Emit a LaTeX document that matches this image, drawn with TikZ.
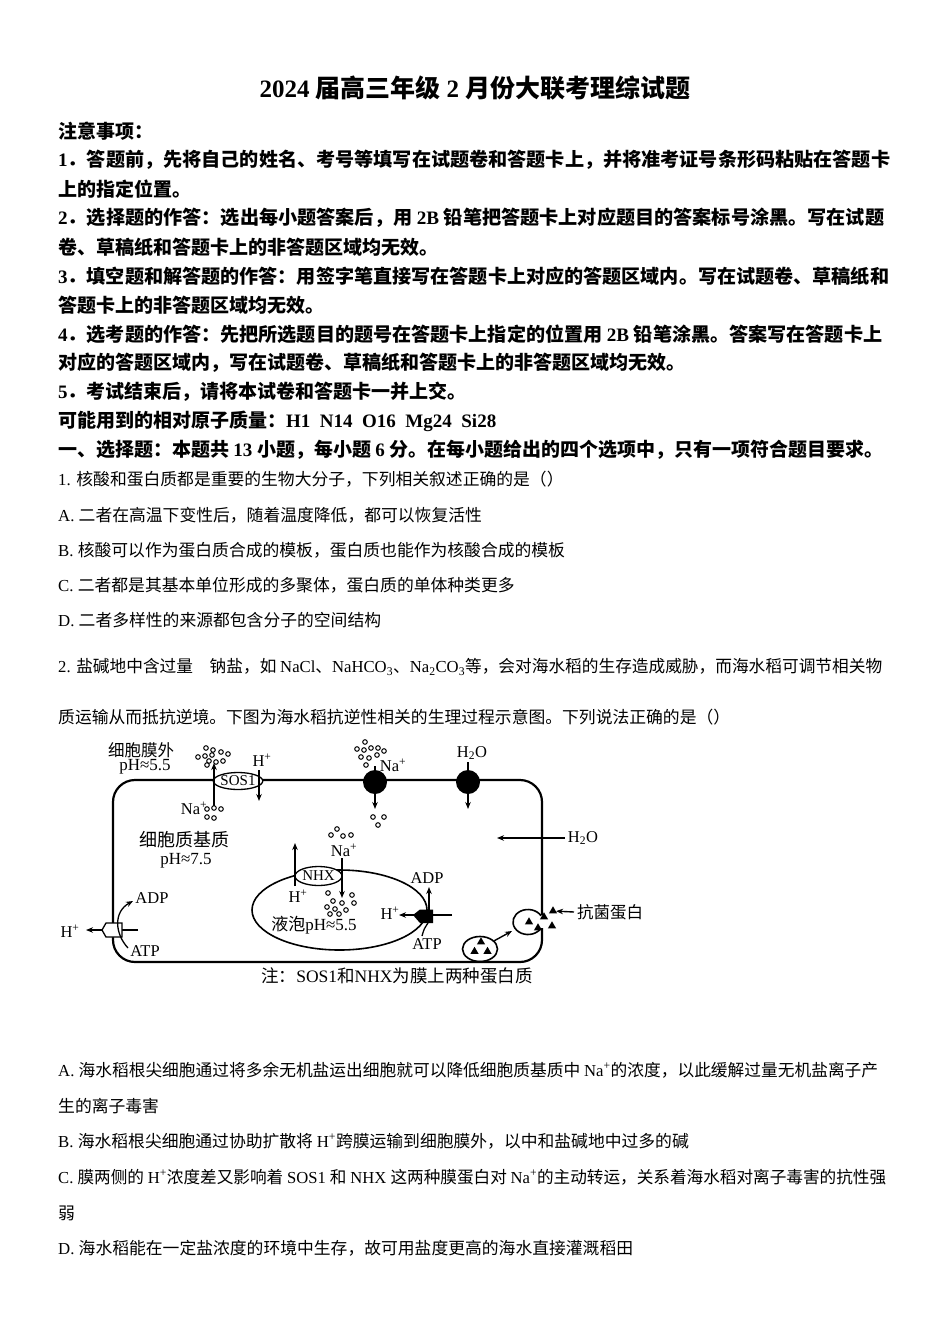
\documentclass[tikz,border=0pt]{standalone}
\usepackage{fontspec}
\usepackage{graphicx}
\setmainfont{Liberation Serif}
\newfontfamily\lat{Liberation Serif}
\newfontfamily\cjk{Noto Sans CJK SC}
\usetikzlibrary{arrows.meta,shapes.geometric}
% automatic font switching between Latin and CJK
\chardef\mycjkclass=7
\newcount\mycjkc
\mycjkc="4E00
\loop
  \XeTeXcharclass\mycjkc=\mycjkclass
  \advance\mycjkc by 1
\ifnum\mycjkc<"A000 \repeat
\mycjkc="3000
\loop
  \XeTeXcharclass\mycjkc=\mycjkclass
  \advance\mycjkc by 1
\ifnum\mycjkc<"3040 \repeat
\mycjkc="FF00
\loop
  \XeTeXcharclass\mycjkc=\mycjkclass
  \advance\mycjkc by 1
\ifnum\mycjkc<"FFF0 \repeat
\XeTeXinterchartoks 0 \mycjkclass={\cjk}
\XeTeXinterchartoks 4095 \mycjkclass={\cjk}
\XeTeXinterchartoks \mycjkclass 0 ={\lat}
\XeTeXinterchartoks 4095 0 ={\lat}
\XeTeXinterchartokenstate=1
\newcommand\bodyB{\fontsize{19}{19}\selectfont\bfseries}
\newcommand\bodyR{\fontsize{16.8}{17}\selectfont}
\newcommand\tl[4]{\node[txt,font=#3] (#1) at (58,#2) {#4};}
\newcommand\tf[5]{\node[txt,font=#3] (#1) at (58,#2) {\resizebox{#4pt}{\height}{#5}};}
\begin{document}
\begin{tikzpicture}[x=1pt,y=-1pt,
  mem/.style={line width=2.2pt},
  ves/.style={line width=1.6pt},
  arr/.style={-{Stealth[length=7pt,width=5.5pt]},line width=1.4pt},
  dotst/.style={line width=1pt},
  lbl/.style={inner sep=0pt,font=\fontsize{16.5}{16}\selectfont},
  phl/.style={inner sep=0pt,font=\fontsize{17}{17}\selectfont},
  prot/.style={circle,fill=black,minimum size=24pt,inner sep=0pt},
  tri/.style={regular polygon,regular polygon sides=3,fill=black,minimum size=9.5pt,inner sep=0pt},
  memprot/.style={draw,fill=white,ellipse,inner sep=0pt,line width=1.3pt,font=\fontsize{15}{15}\selectfont},
  txt/.style={anchor=west,inner sep=0pt}]
\fill[white] (0,0) rectangle (950,1344);
\useasboundingbox (0,0) rectangle (950,1344);

% ---------- header text ----------
\node[inner sep=0pt,font=\fontsize{25}{25}\selectfont\bfseries] (title) at (475,88) {2024 届高三年级 2 月份大联考理综试题};
\tl{n0}{131}{\bodyB}{注意事项：}
\tf{n1}{160}{\bodyB}{832}{1．答题前，先将自己的姓名、考号等填写在试题卷和答题卡上，并将准考证号条形码粘贴在答题卡}
\tl{n2}{189}{\bodyB}{上的指定位置。}
\tf{n3}{218}{\bodyB}{826}{2．选择题的作答：选出每小题答案后，用 2B 铅笔把答题卡上对应题目的答案标号涂黑。写在试题}
\tl{n4}{247}{\bodyB}{卷、草稿纸和答题卡上的非答题区域均无效。}
\tf{n5}{276}{\bodyB}{831}{3．填空题和解答题的作答：用签字笔直接写在答题卡上对应的答题区域内。写在试题卷、草稿纸和}
\tl{n6}{305}{\bodyB}{答题卡上的非答题区域均无效。}
\tf{n7}{334}{\bodyB}{824}{4．选考题的作答：先把所选题目的题号在答题卡上指定的位置用 2B 铅笔涂黑。答案写在答题卡上}
\tl{n8}{363}{\bodyB}{对应的答题区域内，写在试题卷、草稿纸和答题卡上的非答题区域均无效。}
\tl{n9}{392}{\bodyB}{5．考试结束后，请将本试卷和答题卡一并上交。}
\tl{n10}{421}{\bodyB}{可能用到的相对原子质量：H1\ \ N14\ \ O16\ \ Mg24\ \ Si28}
\tf{n11}{450}{\bodyB}{825}{一、选择题：本题共 13 小题，每小题 6 分。在每小题给出的四个选项中，只有一项符合题目要求。}

\tl{q1}{479}{\bodyR}{1. 核酸和蛋白质都是重要的生物大分子，下列相关叙述正确的是（）}
\tl{q1a}{515}{\bodyR}{A. 二者在高温下变性后，随着温度降低，都可以恢复活性}
\tl{q1b}{550}{\bodyR}{B. 核酸可以作为蛋白质合成的模板，蛋白质也能作为核酸合成的模板}
\tl{q1c}{585}{\bodyR}{C. 二者都是其基本单位形成的多聚体，蛋白质的单体种类更多}
\tl{q1d}{620}{\bodyR}{D. 二者多样性的来源都包含分子的空间结构}
\tf{q2}{667}{\bodyR}{824}{2. 盐碱地中含过量\hspace{1em}钠盐，如 NaCl、NaHCO\textsubscript{3}、Na\textsubscript{2}CO\textsubscript{3}等，会对海水稻的生存造成威胁，而海水稻可调节相关物}
\tl{q2b}{717}{\bodyR}{质运输从而抵抗逆境。下图为海水稻抗逆性相关的生理过程示意图。下列说法正确的是（）}

% ---------- diagram ----------
% cell membrane
\draw[mem,rounded corners=22pt] (542,915) -- (542,780) -- (113,780) -- (113,962) -- (542,962) -- (542,928);
% fusing vesicle
\draw[ves] (541,915.75) arc[start angle=-30,end angle=-330,x radius=15,y radius=12.5];
\node[tri] (t1) at (529,922) {};
\node[tri] (t2) at (544,917) {};
\node[tri] (t3) at (553,911) {};
\node[tri] (t4) at (538,928) {};
\node[tri] (t5) at (552,926) {};
% small vesicle
\node[draw,ellipse,minimum width=35pt,minimum height=25pt,inner sep=0pt,line width=1.6pt] (sv) at (480,949) {};
\node[tri] (s1) at (481,942) {};
\node[tri] (s2) at (474.5,951.5) {};
\node[tri] (s3) at (487.5,951.5) {};
\coordinate (fvin) at (512,931);
\draw[arr] (sv.30) -- (fvin);
\node[lbl,anchor=west,font=\fontsize{16.5}{16}\selectfont] (kj) at (577,912) {抗菌蛋白};
\draw[arr] ([xshift=-3pt]kj.west) -- (t3);

% labels in the cell
\node[lbl] (out1) at (141,750) {细胞膜外};
\node[phl] (out2) at (145,767) {pH≈5.5};
\node[lbl,font=\fontsize{18}{18}\selectfont] (cy1) at (184,840) {细胞质基质};
\node[phl] (cy2) at (186,861) {pH≈7.5};

% SOS1
\coordinate (sosA) at (214,806);
\coordinate (sosB) at (214,763);
\coordinate (sosC) at (259,770);
\coordinate (sosD) at (259,801);
\node[memprot,minimum width=45pt,minimum height=17pt] (sos) at (238,781) {SOS1};
\draw[arr] (sosA) -- (sosB);
\draw[arr] (sosC) -- (sosD);
\node[lbl] (hS) at (262,760) {H\textsuperscript{+}};
\node[lbl] (naS) at (194,808) {Na\textsuperscript{+}};
\foreach \p in {(206,748),(213,750),(221,752),(228,754),(198,757),(205,756),(212,755),(209,761),(216,762),(223,761),(207,765)}
  \draw[dotst] \p circle[radius=2.3];
\foreach \p in {(207,809),(214,808),(221,809),(207,817),(214,818)}
  \draw[dotst] \p circle[radius=2.3];

% Na+ channel
\node[prot] (p1) at (375,782) {};
\coordinate (p1a) at (375,766);
\coordinate (p1b) at (375,809);
\draw[arr] (p1a) -- (p1b);
\node[lbl] (naP) at (393,765) {Na\textsuperscript{+}};
\foreach \p in {(365,742),(357,749),(364,750),(371,748),(378,748),(384,751),(361,757),(369,758),(377,755),(366,765)}
  \draw[dotst] \p circle[radius=2.3];
\foreach \p in {(373,817),(384,817),(378,825)}
  \draw[dotst] \p circle[radius=2.3];

% water channel
\node[prot] (p2) at (468,782) {};
\coordinate (p2a) at (468,762);
\coordinate (p2b) at (468,809);
\draw[arr] (p2a) -- (p2b);
\node[lbl] (h2oP) at (472,753) {H\textsubscript{2}O};
\node[lbl] (h2oR) at (583,838) {H\textsubscript{2}O};
\coordinate (wend) at (497,838);
\draw[arr] ([xshift=-3pt]h2oR.west) -- (wend);

% left H+ pump
\coordinate (hpa) at (138,930);
\coordinate (hpb) at (86,930);
\draw[arr] (hpa) -- (hpb);
\filldraw[fill=white,line width=1.3pt] (106,923) -- (102,930) -- (106,937) -- (122,937) -- (122,923) -- cycle;
\coordinate (atp1) at (128,948);
\coordinate (adp1) at (133,901);
\draw[arr,line width=1.3pt] (atp1) .. controls (115,934) and (113,912) .. (adp1);
\node[lbl] (hL) at (70,931) {H\textsuperscript{+}};
\node[lbl] (adpL) at (152,898) {ADP};
\node[lbl] (atpL) at (145,951) {ATP};

% vacuole
\draw[ves] (339.5,910) ellipse[x radius=87.5,y radius=40];
\node[memprot,minimum width=47pt,minimum height=19pt] (nhx) at (318.5,876) {NHX};
\coordinate (nA) at (295,886);
\coordinate (nB) at (295,843);
\coordinate (nC) at (342,858);
\coordinate (nD) at (342,898);
\draw[arr] (nA) -- (nB);
\draw[arr] (nC) -- (nD);
\node[lbl] (hN) at (298,896) {H\textsuperscript{+}};
\node[lbl] (naN) at (344,850) {Na\textsuperscript{+}};
\foreach \p in {(331,835),(337,829),(343,836),(351,835)}
  \draw[dotst] \p circle[radius=2.3];
\foreach \p in {(328,893),(352,895),(333,901),(342,903),(354,903),(327,907),(335,909),(346,910),(330,914),(339,914)}
  \draw[dotst] \p circle[radius=2.3];
\node[phl] (vac) at (314,925) {液泡pH≈5.5};

% vacuolar H+ pump
\coordinate (vpa) at (452,915);
\coordinate (vpb) at (399,915);
\draw[arr] (vpa) -- (vpb);
\fill (420,909.5) -- (433,909.5) -- (433,923) -- (420,923) -- (413,915) -- cycle;
\coordinate (vadA) at (429,912);
\coordinate (vadB) at (429,887);
\draw[arr] (vadA) -- (vadB);
\coordinate (vatA) at (422,936);
\coordinate (vatB) at (428,923);
\draw[line width=1.3pt] (vatA) .. controls (424,929) .. (vatB);
\node[lbl] (hV) at (390,913) {H\textsuperscript{+}};
\node[lbl] (adpV) at (427,878) {ADP};
\node[lbl] (atpV) at (427,944) {ATP};

\node[lbl,font=\fontsize{17.5}{18}\selectfont] (note) at (397,976) {注：SOS1和NHX为膜上两种蛋白质};

% ---------- options ----------
\tf{oa}{1070}{\bodyR}{820}{A. 海水稻根尖细胞通过将多余无机盐运出细胞就可以降低细胞质基质中 Na\textsuperscript{+}的浓度，以此缓解过量无机盐离子产}
\tl{oa2}{1106}{\bodyR}{生的离子毒害}
\tl{ob}{1141}{\bodyR}{B. 海水稻根尖细胞通过协助扩散将 H\textsuperscript{+}跨膜运输到细胞膜外，以中和盐碱地中过多的碱}
\tf{oc}{1177}{\bodyR}{828}{C. 膜两侧的 H\textsuperscript{+}浓度差又影响着 SOS1 和 NHX 这两种膜蛋白对 Na\textsuperscript{+}的主动转运，关系着海水稻对离子毒害的抗性强}
\tl{oc2}{1213}{\bodyR}{弱}
\tl{od}{1248}{\bodyR}{D. 海水稻能在一定盐浓度的环境中生存，故可用盐度更高的海水直接灌溉稻田}
\end{tikzpicture}
\end{document}
